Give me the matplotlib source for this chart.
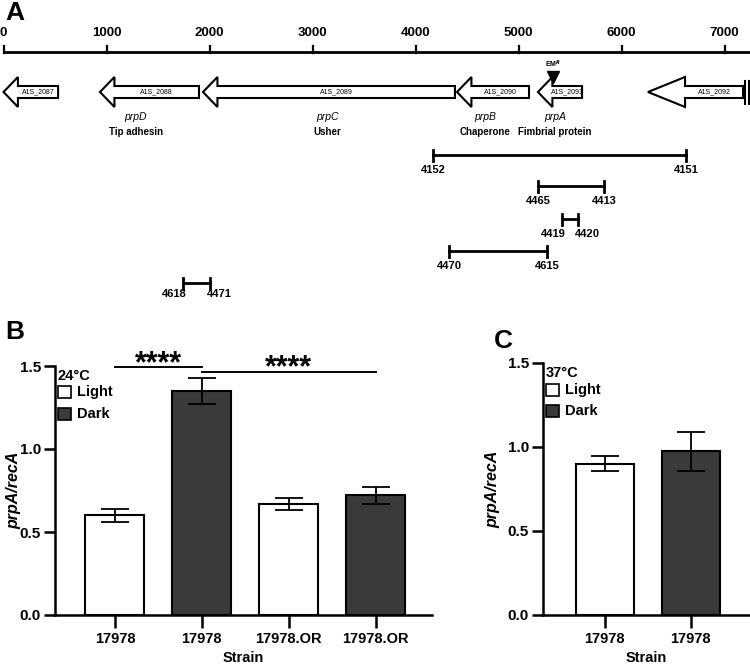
import matplotlib
matplotlib.use("Agg")
import matplotlib.pyplot as plt
from matplotlib.patches import Polygon, Rectangle

plt.rcParams['font.family'] = ['Liberation Sans', 'DejaVu Sans']
plt.rcParams['font.weight'] = 'bold'
plt.rcParams['axes.labelweight'] = 'bold'

# ---- panel A data (positions in bp) ----
gene_ids = ["A1S_2087", "A1S_2088", "A1S_2089", "A1S_2090", "A1S_2091", "A1S_2092"]
gene_start = [0, 937, 1937, 4403, 5189, 6257]      # arrow tip (genes point left)
gene_end = [530, 1898, 4383, 5102, 5617, 7180]
gene_names = ["prpD", "prpC", "prpB", "prpA"]
gene_funcs = ["Tip adhesin", "Usher", "Chaperone", "Fimbrial protein"]
name_pos = [1286, 3141, 4675, 5354]
em_site = 5335

primer_left = [4170, 5189, 5423, 4325, 1743]
primer_right = [6626, 5830, 5578, 5277, 2004]
primer_left_lab = ["4152", "4465", "4419", "4470", "4618"]
primer_right_lab = ["4151", "4413", "4420", "4615", "4471"]

# ---- panel B / C data ----
strains_b = ["17978", "17978", "17978.OR", "17978.OR"]
cond_b = ["Light", "Dark", "Light", "Dark"]
mean_b = [0.60, 1.35, 0.67, 0.72]
err_b = [0.04, 0.08, 0.035, 0.05]

strains_c = ["17978", "17978"]
cond_c = ["Light", "Dark"]
mean_c = [0.90, 0.975]
err_c = [0.045, 0.115]

DARK = "#3a3a3a"
colors = {"Light": "white", "Dark": DARK}

W, H = 750, 666
fig = plt.figure(figsize=(W / 100, H / 100), dpi=100)


def px_axes(left, top, right, bottom):
    return fig.add_axes([left / W, 1 - bottom / H, (right - left) / W, (bottom - top) / H])


# ==========================================
# Panel A: gene map
# ==========================================
axA = px_axes(0, 0, W, 310)
bp_per_px = 1 / 0.103
axA.set_xlim(-3.5 * bp_per_px, (W - 3.5) * bp_per_px)
axA.set_ylim(310, 0)
axA.axis('off')

x_right = (W - 3.5) * bp_per_px
axA.plot([0, x_right], [52, 52], color='k', lw=2, solid_capstyle='butt')
for t in range(0, 8000, 1000):
    axA.plot([t, t], [46, 53], color='k', lw=1.6)
    axA.text(t, 33, str(t), ha='center', va='center', fontsize=9.5)

yc = 92
shaft, head = 6, 15
for i, (s, e, gid) in enumerate(zip(gene_start, gene_end, gene_ids)):
    hl = 360 if i == len(gene_ids) - 1 else 140
    pts = [(s, yc), (s + hl, yc - head), (s + hl, yc - shaft), (e, yc - shaft),
           (e, yc + shaft), (s + hl, yc + shaft), (s + hl, yc + head)]
    axA.add_patch(Polygon(pts, closed=True, facecolor='white', edgecolor='k',
                          lw=1.5, joinstyle='miter'))
    axA.text((s + hl + e) / 2, yc, gid, ha='center', va='center',
             fontsize=5, fontweight='normal')

# break marks at the right end
last_end = gene_end[-1]
axA.plot([last_end + 20, last_end + 20], [81, 104], color='k', lw=1.5)
axA.plot([last_end + 58, last_end + 58], [81, 104], color='k', lw=1.5)

# EM resistance insertion
axA.plot([em_site], [77], marker='v', color='k', markersize=8)
axA.text(em_site, 64, "EM$^{R}$", ha='center', va='center', fontsize=5)

for nm, fn, x in zip(gene_names, gene_funcs, name_pos):
    axA.text(x, 117, nm, ha='center', va='center', fontsize=7.5,
             style='italic', fontweight='normal')
    axA.text(x, 132, fn, ha='center', va='center', fontsize=7)

primer_rows = [155, 186, 219, 251, 283]
for l, r, ll, rl, y in zip(primer_left, primer_right, primer_left_lab, primer_right_lab, primer_rows):
    axA.plot([l, r], [y, y], color='k', lw=2)
    axA.plot([l, l], [y - 5.5, y + 5.5], color='k', lw=2)
    axA.plot([r, r], [y - 5.5, y + 5.5], color='k', lw=2)
    off = 11 if y == primer_rows[-1] else 15
    if (r - l) * 0.103 < 30:
        axA.text(l + 3.5 * bp_per_px, y + off, ll, ha='right', va='center', fontsize=8)
        axA.text(r - 3 * bp_per_px, y + off, rl, ha='left', va='center', fontsize=8)
    else:
        axA.text(l, y + off, ll, ha='center', va='center', fontsize=8)
        axA.text(r, y + off, rl, ha='center', va='center', fontsize=8)

fig.text(5 / W, 1 - 13 / H, "A", fontsize=19, fontweight='bold', ha='left', va='center')


# ==========================================
# Panels B and C: bar charts
# ==========================================
def bar_panel(ax, strains, conds, means, errs, temp, left_off, right_off, ylab_x):
    x = list(range(len(means)))
    ax.bar(x, means, width=0.68, color=[colors[c] for c in conds],
           edgecolor='k', linewidth=1.5, zorder=2)
    ax.errorbar(x, means, yerr=errs, fmt='none', ecolor='k', elinewidth=1.3,
                capsize=10, capthick=1.3, zorder=3)
    ax.set_xlim(left_off, right_off)
    ax.set_ylim(0, 1.5)
    ax.set_yticks([0, 0.5, 1.0, 1.5])
    ax.set_yticklabels(["0.0", "0.5", "1.0", "1.5"])
    ax.set_xticks(x)
    ax.set_xticklabels(strains)
    for s in ['top', 'right']:
        ax.spines[s].set_visible(False)
    for s in ['left', 'bottom']:
        ax.spines[s].set_linewidth(1.8)
    ax.tick_params(axis='y', length=8, width=1.8, labelsize=11, pad=2)
    ax.tick_params(axis='x', length=9, width=1.8, labelsize=10.5, pad=3)
    ax.set_xlabel("Strain", fontsize=10.5, fontweight='bold', labelpad=4)
    ax.set_ylabel("prpA/recA", fontsize=11.5, style='italic', fontweight='bold')
    ax.yaxis.set_label_coords(ylab_x, 0.5)

    # in-axes legend
    bw, bh = ax.bbox.width, ax.bbox.height
    x0 = 3 / bw
    ax.text(x0, 0.96, temp, transform=ax.transAxes, fontsize=10.5,
            ha='left', va='center')
    for j, lab in enumerate(["Light", "Dark"]):
        yb = 0.871 - j * 0.086
        ax.add_patch(Rectangle((x0, yb), 13 / bw, 12 / bh,
                               transform=ax.transAxes, facecolor=colors[lab],
                               edgecolor='k', lw=1.2, clip_on=False))
        ax.text(x0 + 19 / bw, yb + 6 / bh, lab, transform=ax.transAxes,
                fontsize=10.5, ha='left', va='center')


axB = px_axes(55, 366, 432, 615)
bar_panel(axB, strains_b, cond_b, mean_b, err_b, "24°C", -0.69, 3.65, -0.09)

# significance brackets: (from bar, to bar, line height, star baseline)
sig_pairs = [(0, 1, 1.494, 1.465), (1, 3, 1.464, 1.44)]
for a, b, yy, ys in sig_pairs:
    axB.plot([a, b], [yy, yy], color='k', lw=1.4, clip_on=False)
    axB.text((a + b) / 2, ys, "****", ha='center', va='baseline',
             fontsize=22, clip_on=False)

axC = px_axes(543, 363, 750, 615)
bar_panel(axC, strains_c, cond_c, mean_c, err_c, "37°C", -0.72, 1.69, -0.208)

fig.text(5 / W, 1 - 332 / H, "B", fontsize=19, fontweight='bold', ha='left', va='center')
fig.text(494 / W, 1 - 341 / H, "C", fontsize=19, fontweight='bold', ha='left', va='center')

fig.savefig("out.png", dpi=100)
